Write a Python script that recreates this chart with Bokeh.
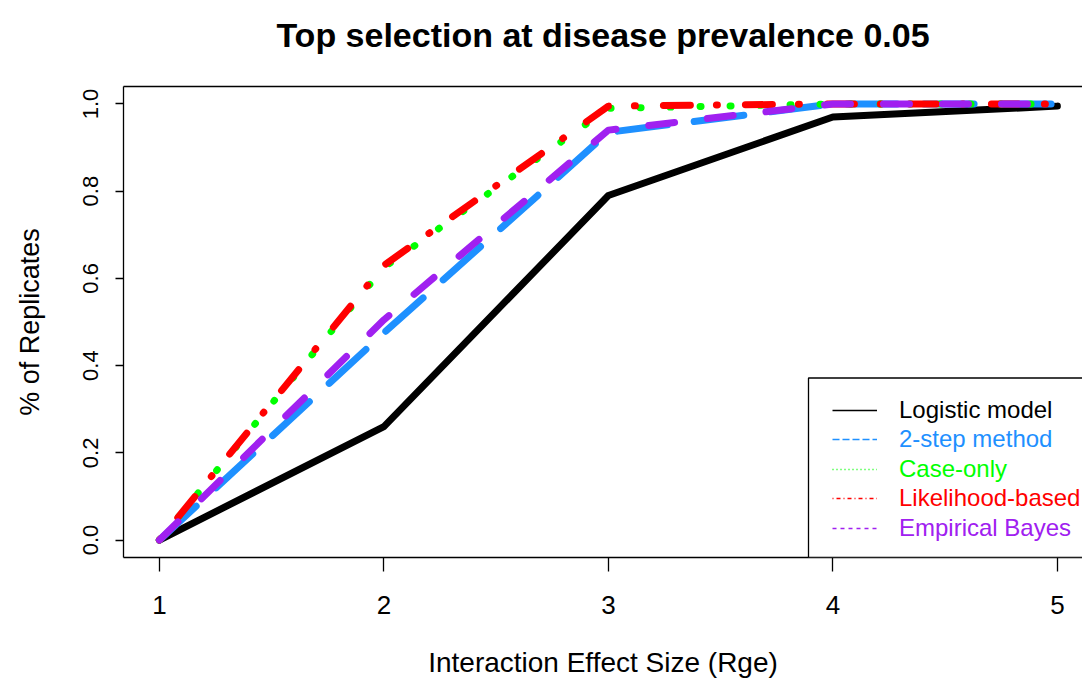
from bokeh.plotting import figure
from bokeh.models import (LinearAxis, FixedTicker, Legend, LegendItem, BoxAnnotation, Range1d)
from bokeh.embed import file_html
from bokeh.resources import INLINE

# ---- data ----
effect_size = [1, 2, 3, 4, 5]
logistic = [0.0, 0.26, 0.79, 0.97, 0.995]
two_step = [0.0, 0.475, 0.935, 1.0, 1.0]
case_only = [0.0, 0.625, 0.99, 1.0, 1.0]
likelihood = [0.0, 0.63, 0.995, 1.0, 1.0]
emp_bayes = [0.0, 0.505, 0.94, 1.0, 1.0]

series_names = ["Logistic model", "2-step method", "Case-only", "Likelihood-based", "Empirical Bayes"]
series_colors = ["#000000", "#1E90FF", "#00FF00", "#FF0000", "#A020F0"]
x_ticks = [1, 2, 3, 4, 5]
y_ticks = [0.0, 0.2, 0.4, 0.6, 0.8, 1.0]
y_tick_labels = ["0.0", "0.2", "0.4", "0.6", "0.8", "1.0"]
title_text = "Top selection at disease prevalence 0.05"

FONT = "Liberation Sans"
NAN = float("nan")

p = figure(width=1082, height=682, x_range=Range1d(0.84, 5.112), y_range=Range1d(-0.04, 1.04),
           output_backend="svg", toolbar_location=None,
           min_border_left=123, min_border_right=0, min_border_top=86, min_border_bottom=125,
           x_axis_location=None, y_axis_location=None)
p.outline_line_color = None
p.xgrid.visible = False
p.ygrid.visible = False
p.background_fill_color = "white"
p.border_fill_color = "white"

# bottom axis
xa = LinearAxis(ticker=FixedTicker(ticks=x_ticks), axis_label="Interaction Effect Size (Rge)")
xa.axis_line_color = "black"
xa.axis_line_width = 1.3
xa.major_tick_out = 14
xa.major_tick_in = 0
xa.minor_tick_out = 0
xa.minor_tick_in = 0
xa.major_tick_line_width = 1.3
xa.major_tick_line_color = "black"
xa.major_label_text_font = FONT
xa.major_label_text_font_size = "26px"
xa.major_label_text_color = "black"
xa.major_label_standoff = 24
xa.axis_label_text_font = FONT
xa.axis_label_text_font_size = "28px"
xa.axis_label_text_font_style = "normal"
xa.axis_label_text_color = "black"
xa.axis_label_standoff = 30
p.add_layout(xa, "below")

# left axis
ya = LinearAxis(ticker=FixedTicker(ticks=y_ticks), axis_label="% of Replicates")
ya.major_label_overrides = {t: l for t, l in zip(y_ticks, y_tick_labels)}
ya.axis_line_color = "black"
ya.axis_line_width = 1.3
ya.major_tick_out = 8
ya.major_tick_in = 0
ya.minor_tick_out = 0
ya.minor_tick_in = 0
ya.major_tick_line_width = 1.3
ya.major_tick_line_color = "black"
ya.major_label_orientation = "vertical"
ya.major_label_text_font = FONT
ya.major_label_text_font_size = "22px"
ya.major_label_text_color = "black"
ya.major_label_standoff = 17
ya.axis_label_text_font = FONT
ya.axis_label_text_font_size = "27px"
ya.axis_label_text_font_style = "normal"
ya.axis_label_text_color = "black"
ya.axis_label_standoff = 36
p.add_layout(ya, "left")

# top border line (box) carrying the chart title as its label
ta = LinearAxis(ticker=FixedTicker(ticks=[]), axis_label=title_text)
ta.axis_line_color = "black"
ta.axis_line_width = 1.3
ta.major_tick_out = 0
ta.major_tick_in = 0
ta.minor_tick_out = 0
ta.minor_tick_in = 0
ta.axis_label_text_font = FONT
ta.axis_label_text_font_size = "34px"
ta.axis_label_text_font_style = "bold"
ta.axis_label_text_color = "black"
ta.axis_label_standoff = 33
p.add_layout(ta, "above")

# data lines
data_dash = ["solid", "50 27", "1 29", "1 28 27 26", "26 33"]
all_series = [logistic, two_step, case_only, likelihood, emp_bayes]
for vals, col, dash in zip(all_series, series_colors, data_dash):
    p.line(effect_size, vals, line_color=col, line_width=7, line_dash=dash,
           line_cap="round", line_join="round")

# legend box
frame_bottom = 557.5
box = BoxAnnotation(left=685, right=1000, bottom=0, top=179.5,
                    left_units="screen", right_units="screen", bottom_units="screen", top_units="screen",
                    fill_color="white", fill_alpha=1.0, line_color="black", line_alpha=1.0, line_width=1.3)
p.add_layout(box)

legend_dash = ["solid", "7 3", "1 3", "1 3 4 3", "4 4"]
row_y = [410, 439.5, 469, 498.5, 528]
for name, col, dash, ry in zip(series_names, series_colors, legend_dash, row_y):
    r = p.line([NAN], [NAN], line_color=col, line_width=1.3, line_dash=dash)
    lg = Legend(items=[LegendItem(label=name, renderers=[r])],
                location=(832 - 123, frame_bottom - ry - 15),
                orientation="vertical", padding=0, margin=0, spacing=0,
                glyph_width=45, glyph_height=30, label_height=30,
                label_standoff=22, border_line_color=None,
                background_fill_alpha=0.0, label_text_font=FONT,
                label_text_font_size="24px", label_text_color=col,
                label_text_baseline="middle")
    p.add_layout(lg, "center")

open("out.html", "w").write(file_html(p, INLINE))
